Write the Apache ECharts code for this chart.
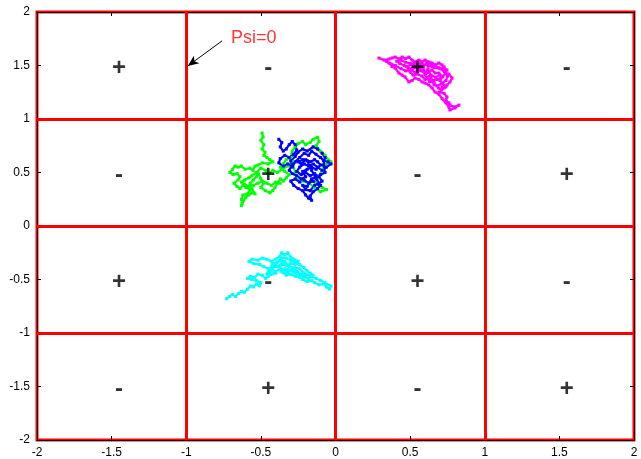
<!DOCTYPE html>
<html><head><meta charset="utf-8">
<script src="https://cdn.jsdelivr.net/npm/echarts@6/dist/echarts.min.js"></script>
<style>html,body{margin:0;padding:0;background:#fff}#c{width:641px;height:459px}</style>
</head><body><div id="c"></div>
<script>
// Axis ticks
const xTicks = [-2, -1.5, -1, -0.5, 0, 0.5, 1, 1.5, 2];
const yTicks = [-2, -1.5, -1, -0.5, 0, 0.5, 1, 1.5, 2];
// Red dividing lines
const dividers = [-1, 0, 1];
// Sign labels in the cells
const signX = [-1.45,-0.45,0.55,1.55, -1.45,-0.45,0.55,1.55, -1.45,-0.45,0.55,1.55, -1.45,-0.45,0.55,1.55];
const signY = [1.5,1.5,1.5,1.5, 0.5,0.5,0.5,0.5, -0.5,-0.5,-0.5,-0.5, -1.5,-1.5,-1.5,-1.5];
const signText = ['+','-','+','-', '-','+','-','+', '+','-','+','-', '-','+','-','+'];
// Annotation
const annText = 'Psi=0';
const annPos = [-0.70, 1.76];
const arrowFrom = [-0.76, 1.73];
const arrowTo = [-0.99, 1.495];
// Random walk traces
const magenta = [[0.291,1.570],[0.325,1.551],[0.358,1.560],[0.379,1.570],[0.40,1.579],[0.425,1.560],[0.446,1.579],[0.47,1.565],[0.492,1.579],[0.513,1.551],[0.533,1.533],[0.559,1.551],[0.580,1.533],[0.600,1.551],[0.626,1.533],[0.647,1.523],[0.667,1.505],[0.693,1.523],[0.714,1.505],[0.727,1.486],[0.747,1.458],[0.735,1.43],[0.760,1.42],[0.781,1.383],[0.767,1.346],[0.747,1.318],[0.727,1.29],[0.714,1.30],[0.693,1.252],[0.727,1.24],[0.747,1.206],[0.740,1.178],[0.760,1.15],[0.767,1.131],[0.794,1.112],[0.827,1.13],[0.801,1.103],[0.767,1.084],[0.760,1.11],[0.740,1.15],[0.714,1.19],[0.693,1.23],[0.667,1.252],[0.647,1.29],[0.626,1.318],[0.600,1.336],[0.580,1.346],[0.559,1.37],[0.533,1.383],[0.513,1.36],[0.492,1.346],[0.466,1.393],[0.446,1.41],[0.425,1.430],[0.399,1.477],[0.379,1.49],[0.358,1.523],[0.34,1.54],[0.40,1.50],[0.44,1.47],[0.47,1.45],[0.513,1.458],[0.533,1.43],[0.559,1.486],[0.59,1.46],[0.600,1.411],[0.626,1.44],[0.647,1.458],[0.667,1.43],[0.693,1.43],[0.714,1.39],[0.680,1.37],[0.65,1.36],[0.626,1.38],[0.60,1.37],[0.58,1.40],[0.55,1.42],[0.52,1.41],[0.50,1.44],[0.48,1.49],[0.51,1.51],[0.54,1.50],[0.57,1.52],[0.62,1.50],[0.66,1.48],[0.70,1.47],[0.73,1.44],[0.75,1.40],[0.74,1.36],[0.71,1.33],[0.68,1.31],[0.66,1.32],[0.62,1.47],[0.60,1.43],[0.57,1.45],[0.55,1.47],[0.52,1.48],[0.49,1.47],[0.46,1.50],[0.43,1.52],[0.41,1.54],[0.44,1.55],[0.47,1.53],[0.50,1.52],[0.53,1.52],[0.56,1.50],[0.59,1.49],[0.61,1.52],[0.64,1.51],[0.67,1.50],[0.69,1.48],[0.72,1.47],[0.74,1.43],[0.72,1.40],[0.70,1.36],[0.72,1.33],[0.74,1.30],[0.71,1.27],[0.69,1.29],[0.66,1.34],[0.63,1.35],[0.61,1.39],[0.64,1.41],[0.67,1.39],[0.70,1.41]];
const green = [[-0.492,0.869],[-0.485,0.832],[-0.50,0.80],[-0.480,0.76],[-0.492,0.72],[-0.472,0.69],[-0.48,0.66],[-0.459,0.64],[-0.44,0.62],[-0.42,0.60],[-0.45,0.58],[-0.49,0.59],[-0.519,0.57],[-0.539,0.56],[-0.553,0.52],[-0.573,0.54],[-0.606,0.53],[-0.63,0.56],[-0.653,0.55],[-0.673,0.561],[-0.69,0.53],[-0.707,0.50],[-0.687,0.48],[-0.66,0.49],[-0.64,0.46],[-0.653,0.43],[-0.68,0.40],[-0.66,0.37],[-0.64,0.35],[-0.62,0.38],[-0.60,0.36],[-0.573,0.34],[-0.59,0.30],[-0.62,0.29],[-0.63,0.25],[-0.626,0.21],[-0.63,0.19],[-0.615,0.24],[-0.60,0.27],[-0.58,0.29],[-0.56,0.31],[-0.539,0.30],[-0.56,0.35],[-0.573,0.40],[-0.55,0.43],[-0.53,0.46],[-0.519,0.50],[-0.50,0.44],[-0.48,0.40],[-0.50,0.36],[-0.47,0.33],[-0.44,0.31],[-0.42,0.33],[-0.405,0.36],[-0.39,0.40],[-0.37,0.44],[-0.35,0.42],[-0.33,0.45],[-0.31,0.48],[-0.34,0.51],[-0.37,0.55],[-0.35,0.58],[-0.33,0.62],[-0.30,0.64],[-0.29,0.70],[-0.27,0.74],[-0.25,0.77],[-0.22,0.79],[-0.20,0.76],[-0.17,0.78],[-0.15,0.81],[-0.12,0.83],[-0.11,0.79],[-0.13,0.75],[-0.10,0.70],[-0.07,0.66],[-0.05,0.62],[-0.03,0.60],[-0.06,0.58],[-0.09,0.53],[-0.11,0.46],[-0.13,0.40],[-0.09,0.36],[-0.06,0.34],[-0.10,0.32],[-0.14,0.36],[-0.18,0.40],[-0.22,0.42],[-0.26,0.45],[-0.29,0.60],[-0.32,0.56],[-0.36,0.53],[-0.39,0.50],[-0.42,0.52],[-0.45,0.49],[-0.47,0.52],[-0.50,0.54],[-0.53,0.50],[-0.56,0.47],[-0.58,0.45],[-0.61,0.43],[-0.63,0.41],[-0.61,0.39],[-0.58,0.37],[-0.55,0.38],[-0.52,0.40],[-0.49,0.42],[-0.46,0.40],[-0.43,0.38],[-0.40,0.41],[-0.37,0.40]];
const blue = [[-0.38,0.81],[-0.36,0.78],[-0.37,0.74],[-0.35,0.70],[-0.33,0.72],[-0.31,0.76],[-0.29,0.79],[-0.27,0.76],[-0.26,0.71],[-0.28,0.67],[-0.31,0.64],[-0.34,0.66],[-0.37,0.63],[-0.38,0.59],[-0.35,0.56],[-0.32,0.58],[-0.29,0.55],[-0.27,0.60],[-0.24,0.64],[-0.21,0.68],[-0.18,0.66],[-0.16,0.70],[-0.13,0.67],[-0.10,0.64],[-0.08,0.61],[-0.05,0.60],[-0.03,0.58],[-0.06,0.55],[-0.09,0.52],[-0.12,0.55],[-0.15,0.58],[-0.18,0.56],[-0.21,0.58],[-0.24,0.55],[-0.26,0.51],[-0.23,0.48],[-0.20,0.50],[-0.17,0.47],[-0.14,0.49],[-0.11,0.46],[-0.09,0.42],[-0.12,0.39],[-0.15,0.42],[-0.18,0.40],[-0.21,0.43],[-0.24,0.41],[-0.27,0.44],[-0.30,0.42],[-0.28,0.38],[-0.25,0.35],[-0.22,0.33],[-0.20,0.29],[-0.18,0.26],[-0.16,0.24],[-0.17,0.28],[-0.15,0.32],[-0.12,0.35],[-0.10,0.38],[-0.13,0.44],[-0.16,0.52],[-0.19,0.61],[-0.22,0.62],[-0.25,0.60],[-0.23,0.58],[-0.20,0.62],[-0.17,0.60],[-0.14,0.62],[-0.12,0.60],[-0.10,0.57],[-0.13,0.53],[-0.16,0.55],[-0.19,0.53],[-0.22,0.51],[-0.20,0.46],[-0.23,0.44],[-0.26,0.47],[-0.29,0.49],[-0.31,0.52],[-0.29,0.58],[-0.30,0.61],[-0.27,0.65],[-0.25,0.69],[-0.22,0.72],[-0.19,0.70],[-0.15,0.74],[-0.12,0.72],[-0.09,0.68],[-0.07,0.64],[-0.08,0.57],[-0.07,0.50],[-0.10,0.48],[-0.13,0.46],[-0.16,0.44],[-0.19,0.37],[-0.22,0.38],[-0.20,0.34],[-0.17,0.33],[-0.14,0.38]];
const cyan = [[-0.73,-0.68],[-0.71,-0.66],[-0.69,-0.64],[-0.67,-0.66],[-0.65,-0.63],[-0.63,-0.61],[-0.61,-0.62],[-0.59,-0.59],[-0.57,-0.56],[-0.55,-0.57],[-0.53,-0.54],[-0.51,-0.56],[-0.50,-0.53],[-0.53,-0.51],[-0.56,-0.50],[-0.59,-0.49],[-0.57,-0.47],[-0.54,-0.48],[-0.52,-0.45],[-0.49,-0.46],[-0.47,-0.49],[-0.45,-0.47],[-0.43,-0.45],[-0.40,-0.44],[-0.42,-0.41],[-0.45,-0.40],[-0.48,-0.38],[-0.51,-0.36],[-0.55,-0.35],[-0.58,-0.33],[-0.56,-0.31],[-0.52,-0.32],[-0.49,-0.30],[-0.46,-0.31],[-0.43,-0.33],[-0.40,-0.31],[-0.37,-0.28],[-0.36,-0.25],[-0.34,-0.27],[-0.32,-0.25],[-0.30,-0.29],[-0.28,-0.31],[-0.25,-0.33],[-0.27,-0.36],[-0.30,-0.35],[-0.33,-0.37],[-0.36,-0.35],[-0.38,-0.38],[-0.35,-0.41],[-0.32,-0.43],[-0.29,-0.40],[-0.26,-0.42],[-0.23,-0.45],[-0.20,-0.47],[-0.22,-0.50],[-0.19,-0.52],[-0.16,-0.51],[-0.14,-0.53],[-0.11,-0.55],[-0.08,-0.54],[-0.06,-0.57],[-0.04,-0.59],[-0.03,-0.56],[-0.07,-0.53],[-0.10,-0.51],[-0.13,-0.49],[-0.17,-0.47],[-0.21,-0.44],[-0.24,-0.40],[-0.27,-0.39],[-0.31,-0.38],[-0.34,-0.33],[-0.37,-0.32],[-0.41,-0.37],[-0.44,-0.43],[-0.46,-0.45],[-0.42,-0.35],[-0.39,-0.34],[-0.36,-0.30],[-0.33,-0.30],[-0.30,-0.32],[-0.27,-0.34],[-0.24,-0.36],[-0.21,-0.39],[-0.19,-0.42],[-0.17,-0.44],[-0.15,-0.46],[-0.18,-0.49],[-0.22,-0.47],[-0.25,-0.45],[-0.28,-0.43],[-0.31,-0.41],[-0.34,-0.40],[-0.36,-0.43],[-0.33,-0.46],[-0.30,-0.45],[-0.27,-0.47],[-0.24,-0.48],[-0.38,-0.41],[-0.41,-0.43],[-0.43,-0.39],[-0.40,-0.38],[-0.37,-0.37],[-0.34,-0.36]];

const FONT = '"Liberation Sans", Arial, sans-serif';
const chart = echarts.init(document.getElementById('c'), null, {renderer: 'canvas'});

function walk(data, color) {
  return {
    type: 'line', data: data, xAxisIndex: 0, yAxisIndex: 0,
    showSymbol: true, symbol: 'rect', symbolSize: 3,
    itemStyle: {color: color},
    lineStyle: {color: color, width: 2.2},
    animation: false, silent: true, z: 3
  };
}
const axisCommon = {
  type: 'value', min: -2, max: 2, interval: 0.5,
  splitLine: {show: false},
  axisLine: {show: true, onZero: false, lineStyle: {color: '#000', width: 1}},
  axisTick: {show: true, inside: true, length: 4, lineStyle: {color: '#000'}},
};
const markLines = [];
dividers.forEach(v => { markLines.push({xAxis: v}); markLines.push({yAxis: v}); });

const option = {
  backgroundColor: '#fff',
  animation: false,
  grid: {left: 37, right: 7, top: 12, bottom: 19, show: true, borderColor: '#ff0000', borderWidth: 3, backgroundColor: 'transparent'},
  xAxis: [
    Object.assign({}, axisCommon, {position: 'bottom',
      axisLabel: {color: '#000', fontSize: 12, fontFamily: FONT, margin: 7,
        formatter: v => xTicks.includes(v) ? String(v) : ''}}),
    Object.assign({}, axisCommon, {position: 'top', axisLabel: {show: false}})
  ],
  yAxis: [
    Object.assign({}, axisCommon, {position: 'left',
      axisLabel: {color: '#000', fontSize: 12, fontFamily: FONT, margin: 7,
        formatter: v => yTicks.includes(v) ? String(v) : ''}}),
    Object.assign({}, axisCommon, {position: 'right', axisLabel: {show: false}})
  ],
  series: [
    {
      type: 'scatter', data: [], silent: true, z: 2,
      markLine: {silent: true, symbol: 'none', animation: false, label: {show: false},
        lineStyle: {color: '#ff0000', width: 3, type: 'solid'}, data: markLines}
    },
    walk(green, '#00ff00'),
    walk(blue, '#0000ff'),
    walk(magenta, '#ff00ff'),
    walk(cyan, '#00ffff'),
    {
      type: 'scatter', symbolSize: 0, silent: true, z: 5,
      data: signX.map((x, i) => ({value: [x, signY[i]], label: {formatter: signText[i]}})),
      label: {show: true, position: 'inside', offset: [0, 3], color: '#000', textBorderWidth: 0,
        fontSize: 24, fontWeight: 'bold', fontFamily: FONT}
    },
    {
      type: 'scatter', symbolSize: 0, silent: true, z: 6,
      data: [{value: annPos}],
      label: {show: true, position: 'right', distance: 0, formatter: annText, color: '#ff0000', fontSize: 18, fontFamily: FONT},
      markLine: {silent: true, animation: false, symbol: ['none', 'arrow'], symbolSize: [7, 11],
        label: {show: false}, lineStyle: {color: '#000', width: 1, type: 'solid'},
        data: [[{coord: arrowFrom}, {coord: arrowTo}]]}
    }
  ]
};
chart.setOption(option);
</script></body></html>
